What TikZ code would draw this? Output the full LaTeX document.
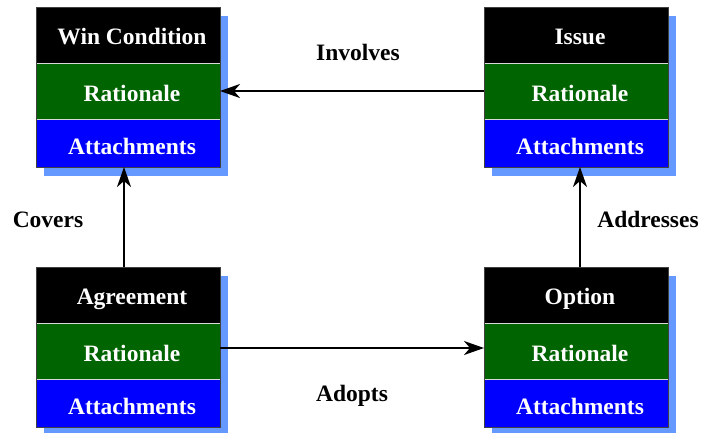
\documentclass[tikz,border=0pt]{standalone}
\usepackage{fontspec}
\setmainfont{Liberation Serif}
\usetikzlibrary{arrows.meta}
\definecolor{rgreen}{RGB}{0,100,0}
\definecolor{rblue}{RGB}{0,0,255}
\definecolor{shadowblue}{RGB}{102,153,255}
\newcommand{\boxfont}{\bfseries\fontsize{23.5}{28}\selectfont}
% A three-part entity box: name, left x, top y, title
\newcommand{\entitybox}[4]{%
  \fill[shadowblue] (#2+8,#3+9) rectangle ++(184,160);
  \node[titleband] (#1-title) at (#2,#3) {};
  \node[ratband] (#1-rat) at (#2,#3+56) {};
  \node[attband] (#1-att) at (#2,#3+112) {};
  \node[outline] (#1) at (#2,#3) {};
  \node[bandtext] at (#2+96,#3+37) {#4};
  \node[bandtext] at (#2+96,#3+94) {Rationale};
  \node[bandtext] at (#2+96,#3+147) {Attachments};
}
\begin{document}
\begin{tikzpicture}[x=1pt,y=-1pt,
  boxpart/.style={draw=white!85!black, line width=0.8pt, minimum width=184pt,
    inner sep=0pt, outer sep=0pt, anchor=north west},
  titleband/.style={boxpart, fill=black, minimum height=56pt},
  ratband/.style={boxpart, fill=rgreen, minimum height=56pt},
  attband/.style={boxpart, fill=rblue, minimum height=48pt},
  outline/.style={draw=black!75, line width=0.8pt, minimum width=184pt,
    minimum height=160pt, inner sep=0pt, outer sep=0pt, anchor=north west},
  bandtext/.style={anchor=base, text=white, font=\boxfont, inner sep=0pt},
  lbl/.style={anchor=base, font=\boxfont, inner sep=0pt},
  link/.style={draw=black, line width=1.8pt,
    -{Stealth[length=20pt,width=14pt,inset=6pt]}}]
\useasboundingbox (0,0) rectangle (702,432);

\entitybox{win}{36}{7}{Win Condition}
\entitybox{iss}{484}{7}{Issue}
\entitybox{agr}{36}{267}{Agreement}
\entitybox{opt}{484}{267}{Option}

% relationships
\draw[link] (iss-rat.west) -- (win-rat.east);
\draw[link] ([xshift=-4pt]agr.north) -- ([xshift=-4pt]win.south);
\draw[link] ([xshift=4pt]opt.north) -- ([xshift=4pt]iss.south);
\draw[link] ([yshift=3pt]agr-rat.east) -- ([yshift=3pt]opt-rat.west);

\node[lbl] (l-inv) at (358,60) {Involves};
\node[lbl] (l-cov) at (48,227) {Covers};
\node[lbl] (l-add) at (648,227) {Addresses};
\node[lbl] (l-ado) at (352,401) {Adopts};
\end{tikzpicture}
\end{document}
